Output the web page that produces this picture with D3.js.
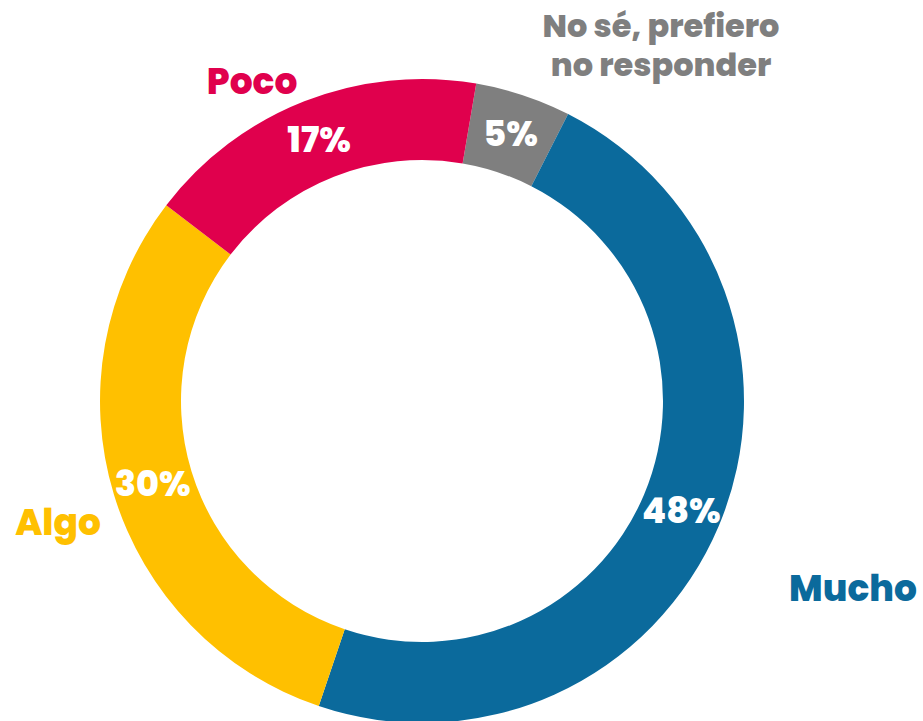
<!DOCTYPE html>
<html>
<head>
<meta charset="utf-8">
<script src="https://cdn.jsdelivr.net/npm/d3@7"></script>
<style>
  body { margin: 0; background: #fff; }
  svg text { font-family: Poppins, Inter, "Open Sans", sans-serif; font-weight: 800; }
</style>
</head>
<body>
<svg id="chart"></svg>
<script>
// chart data, clockwise from the top
var categories = ["No sé, prefiero no responder", "Mucho", "Algo", "Poco"];
var values = [4.8, 47.7, 30.2, 17.3];
var pctLabels = ["5%", "48%", "30%", "17%"];
var colors = ["#7f7f7f", "#0b6a9c", "#ffc000", "#e0004d"];

var width = 923,
    height = 721;

var cx = 422, cy = 401,
    outerR = 322, innerR = 241;

// where the category names sit, relative to the centre
var nameLayout = [
  { dx: 239, dy: -364, size: 32, lines: ["No sé, prefiero", "no responder"] },
  { dx: 431, dy: 200, size: 36, lines: ["Mucho"] },
  { dx: -364, dy: 134, size: 36, lines: ["Algo"] },
  { dx: -170, dy: -307, size: 36, lines: ["Poco"] }
];

var svg = d3.select("#chart")
    .attr("width", width)
    .attr("height", height);

var pie = d3.pie()
    .sort(null)
    .startAngle(9.7 * Math.PI / 180)
    .endAngle(9.7 * Math.PI / 180 + 2 * Math.PI)
    .value(function(d) { return d; });

var arc = d3.arc()
    .innerRadius(innerR)
    .outerRadius(outerR);

var g = svg.append("g")
    .attr("transform", "translate(" + cx + "," + cy + ")");

var arcs = pie(values);

g.selectAll("path")
    .data(arcs)
  .enter().append("path")
    .attr("d", arc)
    .style("fill", function(d, i) { return colors[i]; });

// percentages inside the ring
g.selectAll("text.pct")
    .data(arcs)
  .enter().append("text")
    .attr("class", "pct")
    .attr("transform", function(d) { return "translate(" + arc.centroid(d) + ")"; })
    .attr("text-anchor", "middle")
    .attr("dy", "0.36em")
    .style("font-size", "35px")
    .style("fill", "#fff")
    .text(function(d, i) { return pctLabels[i]; });

// category names outside
var names = g.selectAll("text.name")
    .data(categories)
  .enter().append("text")
    .attr("class", "name")
    .attr("text-anchor", "middle")
    .attr("transform", function(d, i) { return "translate(" + nameLayout[i].dx + "," + nameLayout[i].dy + ")"; })
    .style("font-size", function(d, i) { return nameLayout[i].size + "px"; })
    .style("fill", function(d, i) { return colors[i]; });

names.selectAll("tspan")
    .data(function(d, i) { return nameLayout[i].lines; })
  .enter().append("tspan")
    .attr("x", 0)
    .attr("y", function(d, j) { return j * 39; })
    .text(function(d) { return d; });
</script>
</body>
</html>
